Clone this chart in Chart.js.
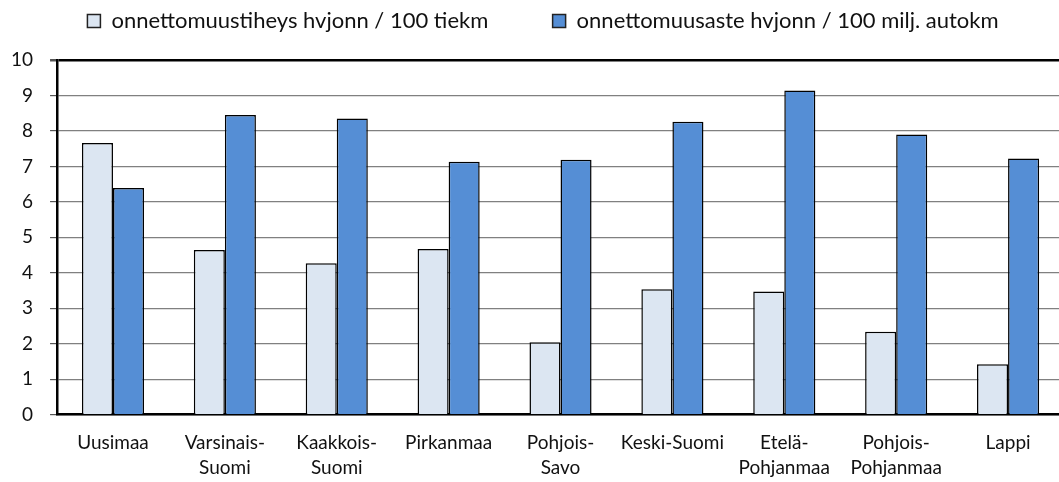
<!DOCTYPE html>
<html lang="fi">
<head>
    <meta charset="UTF-8">
    <title>Onnettomuudet</title>
    <script src="https://cdn.jsdelivr.net/npm/chart.js"></script>
    <style>
        html, body {
            margin: 0;
            padding: 0;
            background: white;
            overflow: hidden;
        }
        #chart {
            display: block;
        }
    </style>
</head>
<body>
    <canvas id="chart" width="1064" height="482"></canvas>

    <script>
        const regions = [
            'Uusimaa', ['Varsinais-', 'Suomi'], ['Kaakkois-', 'Suomi'], 'Pirkanmaa',
            ['Pohjois-', 'Savo'], 'Keski-Suomi', ['Etelä-', 'Pohjanmaa'],
            ['Pohjois-', 'Pohjanmaa'], 'Lappi'
        ];
        const density = [7.66, 4.64, 4.27, 4.67, 2.04, 3.54, 3.47, 2.34, 1.42];
        const rate = [6.39, 8.45, 8.35, 7.13, 7.19, 8.26, 9.14, 7.9, 7.22];
        const yTicks = [0, 1, 2, 3, 4, 5, 6, 7, 8, 9, 10];

        // push the plot area down from the legend, and nudge the legend right
        const legendGap = {
            id: 'legendGap',
            beforeInit(chart) {
                const fit = chart.legend.fit;
                chart.legend.fit = function () {
                    fit.bind(chart.legend)();
                    this.height += 18;
                };
            },
            afterLayout(chart) {
                chart.legend.left += 14;
                chart.legend.right += 14;
            }
        };

        const ctx = document.getElementById('chart').getContext('2d');
        new Chart(ctx, {
            type: 'bar',
            data: {
                labels: regions,
                datasets: [{
                    label: 'onnettomuustiheys hvjonn / 100 tiekm',
                    data: density,
                    backgroundColor: '#dce6f2',
                    borderColor: '#000',
                    borderWidth: 1.5
                }, {
                    label: 'onnettomuusaste hvjonn / 100 milj. autokm',
                    data: rate,
                    backgroundColor: '#558ed5',
                    borderColor: '#000',
                    borderWidth: 1.5
                }]
            },
            options: {
                responsive: false,
                animation: false,
                layout: { padding: { left: -6, top: 2, right: 0, bottom: -6 } },
                datasets: {
                    bar: { categoryPercentage: 0.555, barPercentage: 1 }
                },
                plugins: {
                    tooltip: { enabled: false },
                    legend: {
                        position: 'top',
                        labels: {
                            boxWidth: 13,
                            boxHeight: 13,
                            padding: 8,
                            color: '#111',
                            font: { family: 'Lato, sans-serif', size: 22 },
                            generateLabels: chart => {
                                const items = Chart.defaults.plugins.legend.labels.generateLabels(chart);
                                items[0].text += '          ';
                                items.forEach(it => { it.lineWidth = 1.5; it.strokeStyle = '#222'; });
                                return items;
                            }
                        }
                    }
                },
                scales: {
                    x: {
                        grid: { display: false },
                        border: { color: '#000', width: 2.5 },
                        ticks: {
                            color: '#111',
                            maxRotation: 0,
                            autoSkip: false,
                            padding: 7,
                            font: { family: 'Lato, sans-serif', size: 19, lineHeight: 1.35 }
                        }
                    },
                    y: {
                        min: 0,
                        max: 10,
                        afterBuildTicks: axis => {
                            axis.ticks = yTicks.map(v => ({ value: v }));
                        },
                        grid: {
                            color: c => c.tick && c.tick.value === 10 ? '#000' : '#808080',
                            lineWidth: c => c.tick && c.tick.value === 10 ? 2.5 : 1.2,
                            tickColor: '#555',
                            tickLength: 7
                        },
                        border: { color: '#000', width: 2.5 },
                        ticks: {
                            color: '#111',
                            padding: 17,
                            font: { family: 'Lato, sans-serif', size: 19 }
                        }
                    }
                }
            },
            plugins: [legendGap]
        });
    </script>
</body>
</html>
